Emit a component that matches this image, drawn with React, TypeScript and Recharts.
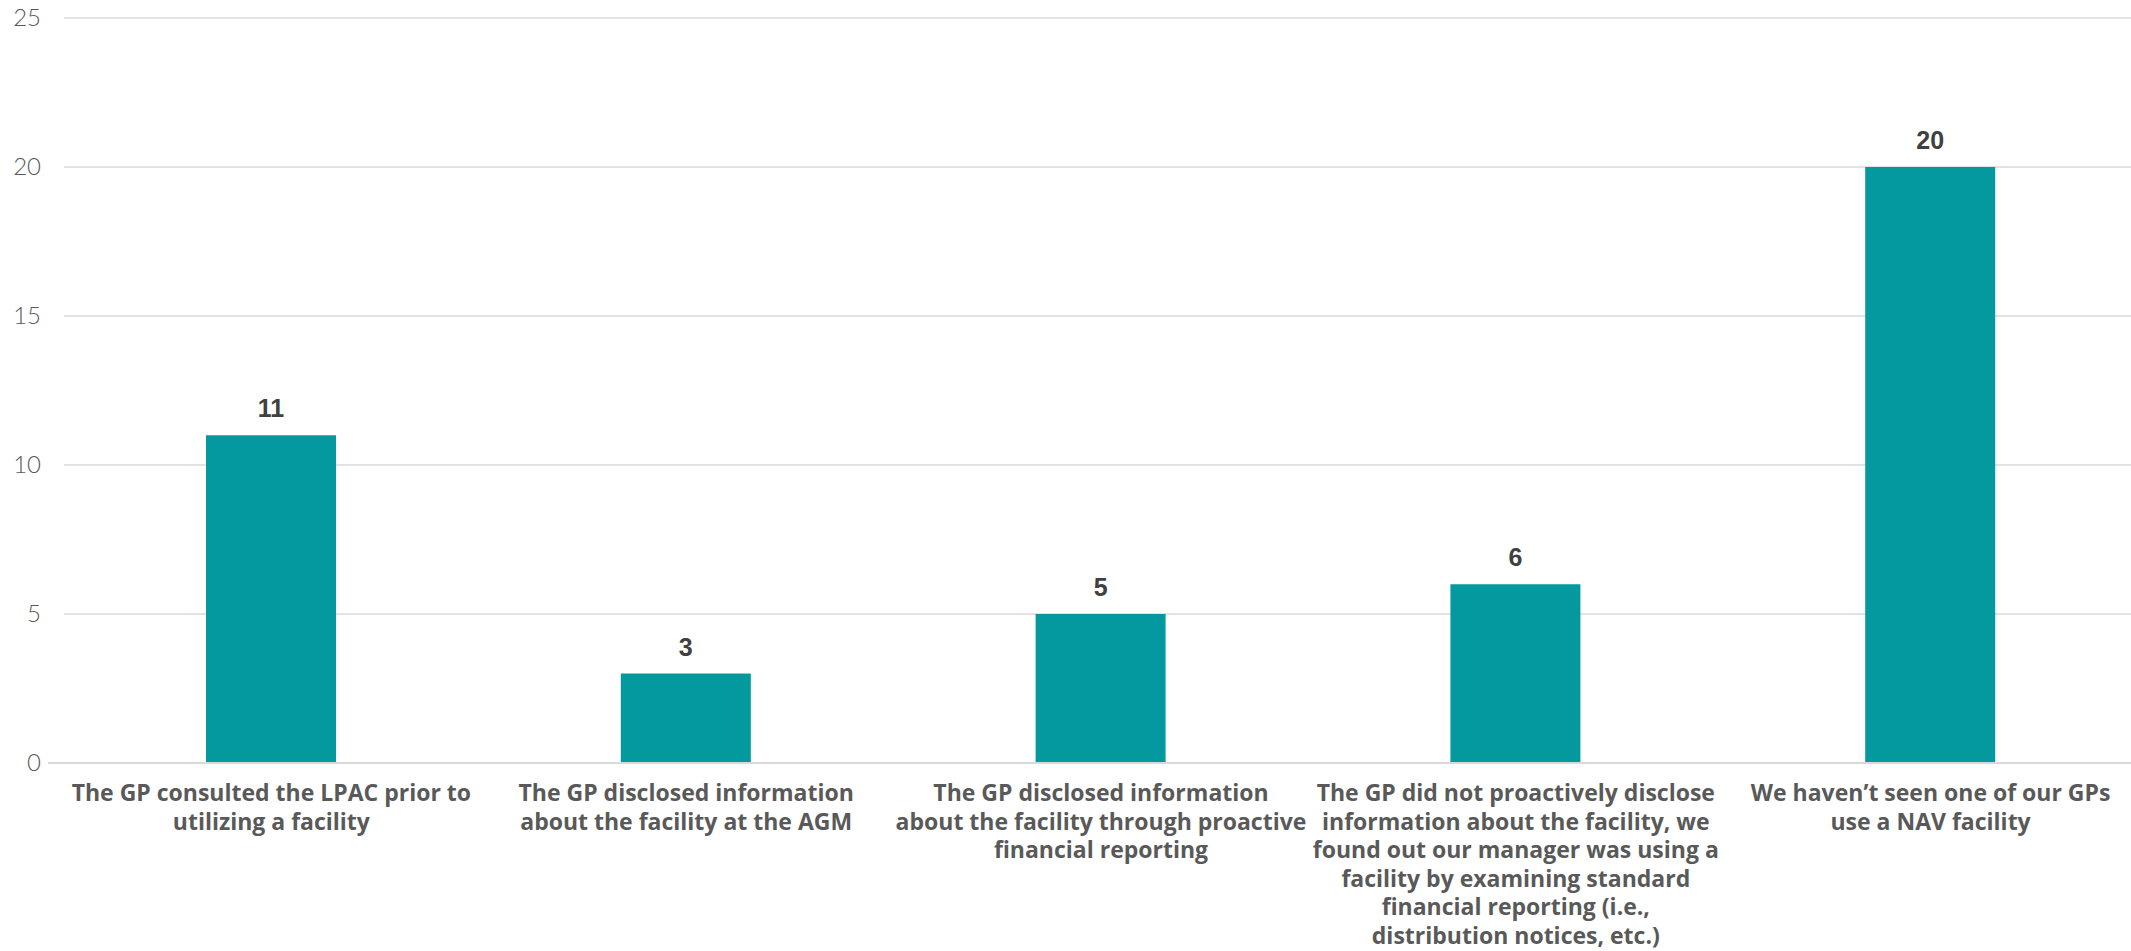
import { Bar, BarChart, CartesianGrid, LabelList, XAxis, YAxis } from "recharts";

// category labels, already broken into lines as in the source
const categories: string[][] = [
  ["The GP consulted the LPAC prior to", "utilizing a facility"],
  ["The GP disclosed information", "about the facility at the AGM"],
  ["The GP disclosed information", "about the facility through proactive", "financial reporting"],
  [
    "The GP did not proactively disclose",
    "information about the facility, we",
    "found out our manager was using a",
    "facility by examining standard",
    "financial reporting (i.e.,",
    "distribution notices, etc.)",
  ],
  ["We haven\u2019t seen one of our GPs", "use a NAV facility"],
];
const counts = [11, 3, 5, 6, 20];
const yTicks = [0, 5, 10, 15, 20, 25];

const data = categories.map((lines, i) => ({ key: String(i), count: counts[i] }));

const TEAL = "#03999E";
const GRID = "#D9D9D9";

function CategoryTick(props: any) {
  const { x, y, payload } = props;
  const lines = categories[Number(payload.value)] ?? [];
  return (
    <text
      x={x}
      y={y}
      textAnchor="middle"
      fill="#595959"
      fontFamily="'Open Sans', sans-serif"
      fontWeight={700}
      fontSize={23}
    >
      {lines.map((line, i) => (
        <tspan key={i} x={x} dy={i === 0 ? 32 : 28.6}>
          {line}
        </tspan>
      ))}
    </text>
  );
}

// value tick; the zero baseline in the source runs a little past the grid
function ValueTick(props: any) {
  const { x, y, payload } = props;
  return (
    <g>
      <text
        x={x}
        y={y}
        dy={8}
        textAnchor="end"
        fill="#595959"
        fontSize={24}
        fontFamily="Lato"
        fontWeight={300}
      >
        {payload.value}
      </text>
      {payload.value === 0 && (
        <line x1={x + 7} x2={x + 24} y1={y} y2={y} stroke={GRID} strokeWidth={2} />
      )}
    </g>
  );
}

export default function App() {
  return (
    <div
      style={{
        position: "absolute",
        left: 0,
        top: 0,
        width: 2131,
        height: 951,
        overflow: "hidden",
        background: "#fff",
      }}
    >
      <BarChart
        width={2138}
        height={951}
        data={data}
        margin={{ top: 18, right: 0, bottom: 0, left: 0 }}
      >
        <CartesianGrid vertical={false} stroke={GRID} strokeWidth={1.5} />
        <XAxis
          dataKey="key"
          height={188}
          interval={0}
          tickLine={false}
          tickMargin={0}
          axisLine={{ stroke: GRID, strokeWidth: 2 }}
          tick={<CategoryTick />}
        />
        <YAxis
          width={64}
          domain={[0, 25]}
          ticks={yTicks}
          axisLine={false}
          tickLine={false}
          tickMargin={17}
          tick={<ValueTick />}
        />
        <Bar dataKey="count" fill={TEAL} barSize={130} isAnimationActive={false}>
          <LabelList
            dataKey="count"
            position="top"
            offset={18}
            fill="#404040"
            fontSize={25}
            fontWeight={700}
            fontFamily="'Liberation Sans', Arial, sans-serif"
          />
        </Bar>
      </BarChart>
    </div>
  );
}
